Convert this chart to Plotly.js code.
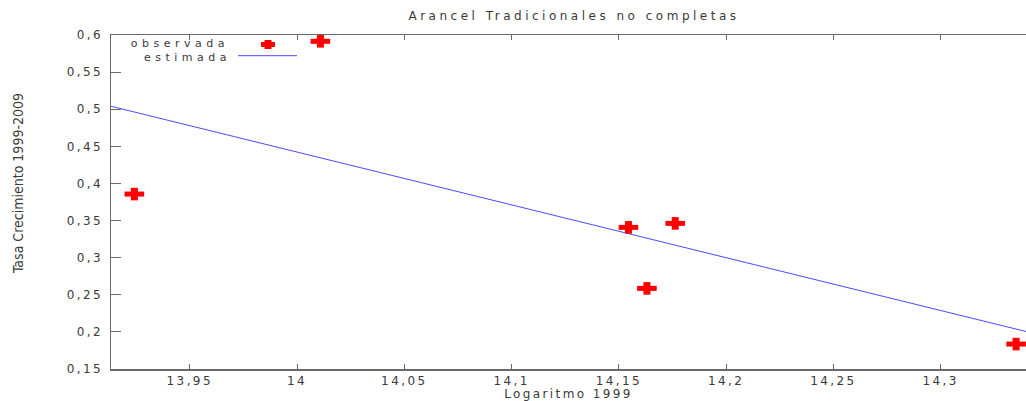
<!DOCTYPE html>
<html>
<head>
<meta charset="utf-8">
<script src="https://cdn.plot.ly/plotly-3.0.1.min.js"></script>
<style>
  html, body { margin: 0; padding: 0; overflow: hidden; background: #fff; }
  #chart { width: 1026px; height: 401px; }
  #chart svg text { letter-spacing: 2.4px; }
  #chart .gtitle { letter-spacing: 3.5px; }
  #chart g.annotation[data-index="0"] text { letter-spacing: 0; }
  #chart g.annotation[data-index="1"] text,
  #chart g.annotation[data-index="2"] text { letter-spacing: 4.5px; }
</style>
</head>
<body>
<div id="chart"></div>
<script>
// Observed points (Logaritmo 1999 vs Tasa Crecimiento 1999-2009)
const obsX = [13.9242, 14.0109, 14.1545, 14.1631, 14.1763, 14.3352];
const obsY = [0.3857, 0.5915, 0.3408, 0.2586, 0.3462, 0.1836];
// Estimated (fitted) line, read at the plot edges
const estX = [13.9133, 14.3398];
const estY = [0.5040, 0.2005];
// Tick values / labels
const xTickVals = [13.95, 14, 14.05, 14.1, 14.15, 14.2, 14.25, 14.3];
const xTickText = ['13,95', '14', '14,05', '14,1', '14,15', '14,2', '14,25', '14,3'];
const yTickVals = [0.15, 0.2, 0.25, 0.3, 0.35, 0.4, 0.45, 0.5, 0.55, 0.6];
const yTickText = ['0,15', '0,2', '0,25', '0,3', '0,35', '0,4', '0,45', '0,5', '0,55', '0,6'];

const RED = '#ff0000';
const BLUE = '#4a4aff';
const TXT = '#3a3a3a';
const AX = '#6a6a6a';
const F = 'DejaVu Sans, Verdana, sans-serif';
const FS = 12;

const traces = [
  { x: estX, y: estY, mode: 'lines', name: 'estimada',
    line: { color: BLUE, width: 1 }, hoverinfo: 'skip', showlegend: false },
  { x: obsX, y: obsY, mode: 'markers', name: 'observada', showlegend: false,
    marker: { symbol: 'line-ew', size: 14, color: RED, line: { color: RED, width: 5 } } },
  { x: obsX, y: obsY, mode: 'markers', name: 'observada', showlegend: false,
    marker: { symbol: 'line-ns', size: 9, color: RED, line: { color: RED, width: 7 } } }
];

// legend geometry in paper units (plot area 111..1026 x 35..369)
const px = v => (v - 111) / 915;
const py = v => (369 - v) / 334;

const layout = {
  width: 1026, height: 401,
  margin: { l: 111, r: 0, t: 35, b: 32, pad: 0 },
  paper_bgcolor: '#fff', plot_bgcolor: '#fff',
  font: { family: F, size: FS, color: TXT },
  title: { text: 'Arancel Tradicionales no completas', font: { family: F, size: FS, color: TXT },
           xref: 'paper', x: px(574), xanchor: 'center', yref: 'container', y: 1 - 16 / 401, yanchor: 'middle' },
  xaxis: {
    range: [13.9133, 14.3398], tickvals: xTickVals, ticktext: xTickText,
    ticks: 'inside', ticklen: 5, tickwidth: 1, tickcolor: AX,
    showline: true, linecolor: AX, linewidth: 1.5, mirror: 'ticks',
    showgrid: false, zeroline: false,
    tickfont: { family: F, size: FS, color: TXT },
    title: { text: 'Logaritmo 1999', font: { family: F, size: FS, color: TXT }, standoff: 17 }
  },
  yaxis: {
    range: [0.15, 0.6], tickvals: yTickVals, ticktext: yTickText,
    ticks: 'inside', ticklen: 10, tickwidth: 1, tickcolor: AX,
    showline: true, linecolor: AX, linewidth: 1.5, mirror: false,
    showgrid: false, zeroline: false, ticklabelstandoff: 4,
    tickfont: { family: F, size: FS, color: TXT }
  },
  annotations: [
    { text: 'Tasa Crecimiento 1999-2009', textangle: -90, showarrow: false,
      xref: 'paper', yref: 'paper', x: px(18), y: py(184), xanchor: 'center', yanchor: 'middle',
      font: { family: 'Liberation Sans Narrow, DejaVu Sans Condensed, Arial Narrow, sans-serif', size: 14, color: TXT } },
    { text: 'observada', showarrow: false, xref: 'paper', yref: 'paper',
      x: px(179.7), y: py(43.8), xanchor: 'center', yanchor: 'middle', font: { family: F, size: 11, color: TXT } },
    { text: 'estimada', showarrow: false, xref: 'paper', yref: 'paper',
      x: px(187), y: py(57.2), xanchor: 'center', yanchor: 'middle', font: { family: F, size: 11, color: TXT } }
  ],
  shapes: [
    // legend sample: observed marker (cross)
    { type: 'rect', xref: 'paper', yref: 'paper', xsizemode: 'pixel', ysizemode: 'pixel',
      xanchor: px(268), yanchor: py(44.5), x0: -7, x1: 7, y0: -2.5, y1: 2.5,
      fillcolor: RED, line: { width: 0 } },
    { type: 'rect', xref: 'paper', yref: 'paper', xsizemode: 'pixel', ysizemode: 'pixel',
      xanchor: px(268), yanchor: py(44.5), x0: -3.5, x1: 3.5, y0: -4.5, y1: 4.5,
      fillcolor: RED, line: { width: 0 } },
    // legend sample: estimated line
    { type: 'line', xref: 'paper', yref: 'paper', x0: px(238), x1: px(297), y0: py(55.7), y1: py(55.7),
      line: { color: BLUE, width: 1 } }
  ],
  showlegend: false
};

Plotly.newPlot('chart', traces, layout, { displayModeBar: false, staticPlot: true });
</script>
</body>
</html>
